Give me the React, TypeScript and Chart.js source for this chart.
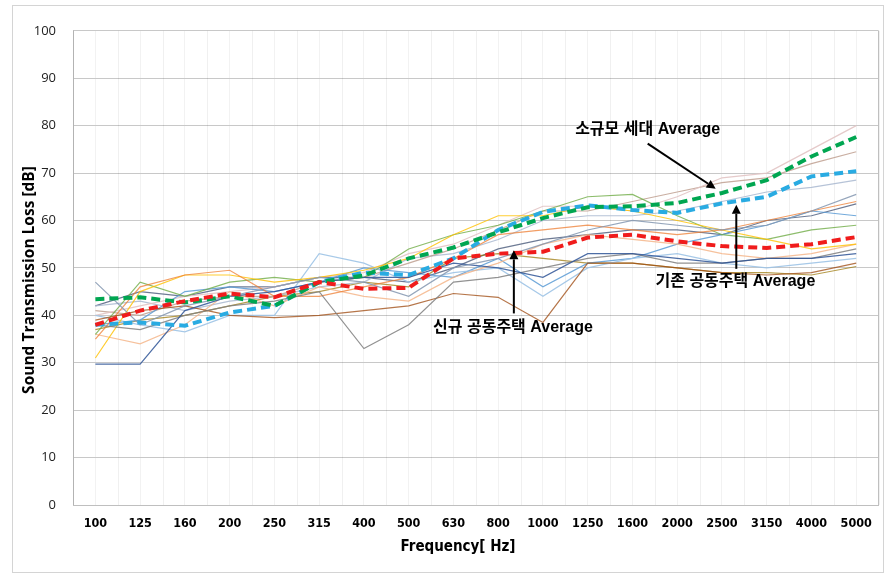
import React, { useEffect, useRef } from "react";
import { Chart, registerables } from "chart.js";

Chart.register(...registerables);

const frequencies = ["100","125","160","200","250","315","400","500","630","800","1000","1250","1600","2000","2500","3150","4000","5000"];

// Averages
const avgSmall = [43.4, 43.8, 42.7, 44.0, 42.0, 47.0, 48.4, 52.0, 54.3, 57.5, 60.5, 62.8, 63.0, 63.7, 65.8, 68.5, 73.5, 77.6];
const avgExisting = [38.0, 38.5, 37.8, 40.6, 42.0, 47.0, 49.0, 48.5, 52.0, 58.0, 61.8, 63.2, 62.2, 61.6, 63.6, 65.0, 69.3, 70.4];
const avgNew = [38.0, 41.0, 43.0, 44.6, 43.8, 47.0, 45.6, 45.8, 52.0, 53.0, 53.4, 56.4, 57.0, 55.6, 54.6, 54.2, 55.0, 56.5];

// Individual measurements
const s1 = [47.0, 38.0, 42.0, 44.0, 46.0, 48.0, 47.0, 44.0, 50.0, 52.0, 55.0, 58.0, 60.0, 59.0, 58.0, 59.0, 62.0, 65.5];
const s2 = [29.7, 29.7, 41.0, 44.0, 45.0, 47.0, 48.0, 48.0, 51.0, 50.0, 48.0, 53.0, 53.0, 52.0, 51.0, 52.0, 52.0, 53.0];
const s3 = [38.0, 37.0, 40.0, 42.0, 43.0, 45.0, 33.0, 38.0, 47.0, 48.0, 50.0, 52.0, 53.0, 51.0, 51.0, 52.0, 52.0, 54.0];
const s4 = [39.0, 41.0, 42.0, 40.0, 39.5, 40.0, 41.0, 42.0, 44.6, 43.8, 38.5, 51.0, 51.0, 50.0, 49.0, 48.5, 49.0, 51.0];
const s5 = [35.0, 46.0, 48.5, 49.5, 44.0, 44.0, 46.0, 48.0, 52.0, 57.0, 58.0, 59.0, 58.0, 57.0, 58.0, 60.0, 62.0, 64.0];
const s6 = [31.0, 45.0, 48.5, 48.5, 47.0, 48.0, 49.5, 52.0, 57.0, 61.0, 61.0, 63.0, 62.0, 60.0, 58.0, 56.0, 54.0, 55.0];
const s7 = [36.0, 47.0, 44.0, 47.0, 48.0, 47.0, 48.0, 54.0, 57.0, 59.0, 62.0, 65.0, 65.5, 61.0, 57.0, 56.0, 58.0, 59.0];
const s8 = [36.0, 34.0, 38.0, 45.0, 42.0, 46.0, 44.0, 43.0, 48.0, 51.0, 55.0, 57.0, 56.0, 55.0, 53.0, 52.0, 53.0, 55.0];
const s9 = [40.0, 38.0, 36.5, 40.0, 40.0, 53.0, 51.0, 47.0, 49.0, 50.0, 44.0, 50.0, 52.0, 53.0, 51.0, 50.0, 51.0, 52.0];
const s10 = [38.0, 39.0, 45.0, 46.0, 45.0, 47.0, 50.0, 49.0, 48.0, 52.0, 46.0, 51.0, 52.0, 55.0, 57.0, 59.0, 62.0, 61.0];
const s11 = [40.0, 42.0, 44.0, 45.0, 46.0, 48.0, 49.0, 53.0, 55.0, 59.0, 63.0, 63.0, 62.0, 65.0, 69.0, 70.0, 75.0, 80.0];
const s12 = [41.0, 40.0, 43.0, 44.0, 44.0, 47.0, 48.0, 51.0, 54.0, 58.0, 62.0, 62.0, 64.0, 66.0, 68.0, 69.0, 72.0, 74.5];
const s13 = [42.0, 43.0, 41.0, 43.0, 44.0, 46.0, 47.0, 52.0, 53.0, 56.0, 60.0, 61.0, 61.0, 62.0, 64.0, 66.0, 67.0, 68.5];
const s14 = [37.0, 39.0, 40.0, 42.0, 44.0, 45.0, 47.0, 46.0, 52.0, 53.0, 52.0, 51.0, 51.0, 50.0, 49.0, 49.0, 48.5, 50.3];
const s15 = [42.0, 45.0, 44.0, 46.0, 46.0, 48.0, 48.0, 47.0, 50.0, 54.0, 56.0, 57.0, 58.0, 58.0, 57.0, 60.0, 61.0, 63.5];

const thinSeries = [s1, s2, s3, s4, s5, s6, s7, s8, s9, s10, s11, s12, s13, s14, s15];
const thinColors = [
  "rgba(132,151,176,0.85)", "rgba(47,85,151,0.85)", "rgba(127,127,127,0.85)", "rgba(158,72,14,0.75)",
  "rgba(237,125,49,0.75)", "rgba(255,192,0,0.8)", "rgba(112,173,71,0.8)", "rgba(244,177,131,0.8)",
  "rgba(157,195,230,0.9)", "rgba(91,155,213,0.85)", "rgba(226,196,196,0.9)", "rgba(191,160,144,0.85)",
  "rgba(169,184,208,0.85)", "rgba(153,115,0,0.7)", "rgba(74,90,122,0.8)"
];

const yTicks = [0, 10, 20, 30, 40, 50, 60, 70, 80, 90, 100];
const xTitle = "Frequency[ Hz]";
const yTitle = "Sound Transmission Loss [dB]";

// Annotations: label text, label anchor (category index, dB), arrow tail, arrow head
const annotationTexts = ["소규모 세대 Average", "기존 공동주택 Average", "신규 공동주택 Average"];
const annotationLabelAt = [[12.34, 79.2], [14.3, 47.2], [9.33, 37.5]];
const annotationTail = [[12.34, 76.2], [14.32, 49.8], [9.35, 40.4]];
const annotationHead = [[13.86, 66.7], [14.32, 63.3], [9.35, 53.7]];

const annotationPlugin = {
  id: "arrowNotes",
  afterDatasetsDraw(chart: any) {
    const { ctx, scales } = chart;
    const x = scales.x, y = scales.y;
    ctx.save();
    for (let i = 0; i < annotationTexts.length; i++) {
      const tx = x.getPixelForValue(annotationTail[i][0]);
      const ty = y.getPixelForValue(annotationTail[i][1]);
      const hx = x.getPixelForValue(annotationHead[i][0]);
      const hy = y.getPixelForValue(annotationHead[i][1]);
      const ang = Math.atan2(hy - ty, hx - tx);
      const hl = 9, hw = 4.5;
      const bx = hx - hl * Math.cos(ang), by = hy - hl * Math.sin(ang);
      ctx.strokeStyle = "#000";
      ctx.fillStyle = "#000";
      ctx.lineWidth = 2;
      ctx.beginPath();
      ctx.moveTo(tx, ty);
      ctx.lineTo(bx, by);
      ctx.stroke();
      ctx.beginPath();
      ctx.moveTo(hx, hy);
      ctx.lineTo(bx + hw * Math.sin(ang), by - hw * Math.cos(ang));
      ctx.lineTo(bx - hw * Math.sin(ang), by + hw * Math.cos(ang));
      ctx.closePath();
      ctx.fill();
      const lx = x.getPixelForValue(annotationLabelAt[i][0]);
      const ly = y.getPixelForValue(annotationLabelAt[i][1]);
      ctx.font = 'bold 16px "Liberation Sans", "Noto Sans CJK KR", sans-serif';
      ctx.textAlign = "center";
      ctx.textBaseline = "middle";
      ctx.fillText(annotationTexts[i], lx, ly);
    }
    // axis titles
    ctx.fillStyle = "#000";
    ctx.textAlign = "center";
    ctx.textBaseline = "middle";
    ctx.font = 'bold 15px "Liberation Sans Narrow", "DejaVu Sans Condensed", sans-serif';
    ctx.fillText(xTitle, 445, 541);
    ctx.save();
    ctx.translate(17, 274);
    ctx.rotate(-Math.PI / 2);
    ctx.font = 'bold 15.5px "Open Sans", sans-serif';
    ctx.fillText(yTitle, 0, 0);
    ctx.restore();
    ctx.restore();
  },
};

const minorGridPlugin = {
  id: "minorGrid",
  beforeDatasetsDraw(chart: any) {
    const { ctx, scales, chartArea } = chart;
    const x = scales.x;
    ctx.save();
    ctx.strokeStyle = "rgba(0,0,0,0.06)";
    ctx.lineWidth = 1;
    for (let i = 0; i <= frequencies.length; i++) {
      const px = Math.round(x.getPixelForValue(i - 0.5)) + 0.5;
      ctx.beginPath();
      ctx.moveTo(px, chartArea.top);
      ctx.lineTo(px, chartArea.bottom);
      ctx.stroke();
    }
    ctx.strokeStyle = "#bfbfbf";
    const rx = Math.round(chartArea.right) - 0.5;
    ctx.beginPath();
    ctx.moveTo(rx, chartArea.top);
    ctx.lineTo(rx, chartArea.bottom);
    ctx.stroke();
    ctx.restore();
  },
};

export default function App() {
  const ref = useRef<HTMLCanvasElement>(null);
  useEffect(() => {
    if (!ref.current) return;
    const datasets: any[] = [];
    const avgStyle = (label: string, data: number[], color: string) => ({
      label, data, borderColor: color, backgroundColor: color,
      borderWidth: 4, borderDash: [9, 5], pointRadius: 0, tension: 0, fill: false,
    });
    datasets.push(avgStyle("신규 공동주택 Average", avgNew, "#f01c1c"));
    datasets.push(avgStyle("소규모 세대 Average", avgSmall, "#00a651"));
    datasets.push(avgStyle("기존 공동주택 Average", avgExisting, "#29abe2"));
    thinSeries.forEach((s, i) => {
      datasets.push({
        label: "S" + (i + 1), data: s, borderColor: thinColors[i], backgroundColor: thinColors[i],
        borderWidth: 1.2, pointRadius: 0, tension: 0, fill: false,
      });
    });
    const chart = new Chart(ref.current, {
      type: "line",
      data: { labels: frequencies, datasets },
      options: {
        animation: false,
        responsive: false,
        layout: { padding: { top: 24, right: 4, left: 0, bottom: 0 } },
        plugins: { legend: { display: false }, tooltip: { enabled: false } },
        scales: {
          x: {
            type: "category",
            offset: true,
            grid: { display: true, offset: false, color: "rgba(0,0,0,0.05)", drawTicks: false },
            border: { display: true, color: "#bfbfbf" },
            ticks: {
              padding: 11, color: "#000", maxRotation: 0, autoSkip: false,
              font: { family: '"Liberation Sans Narrow", "DejaVu Sans Condensed", sans-serif', size: 12.5, weight: "bold" },
            },
            title: { display: false },
            afterFit(scale: any) { scale.height = 67; },
          },
          y: {
            min: 0, max: 100,
            afterBuildTicks(scale: any) { scale.ticks = yTicks.map((v) => ({ value: v })); },
            grid: { color: "#c8c8c8", drawTicks: false },
            border: { display: true, color: "#bfbfbf" },
            ticks: { padding: 17, color: "#222", font: { family: '"Open Sans", sans-serif', size: 13 } },
            title: { display: false },
            afterFit(scale: any) { scale.width = 60; },
          },
        },
      },
      plugins: [minorGridPlugin, annotationPlugin],
    });
    return () => chart.destroy();
  }, []);
  return (
    <div style={{ position: "absolute", left: 12, top: 5, width: 870, height: 566, border: "1px solid #d4d4d4", background: "#fff" }}>
      <canvas ref={ref} width={870} height={566} style={{ display: "block", width: 870, height: 566 }} />
    </div>
  );
}
